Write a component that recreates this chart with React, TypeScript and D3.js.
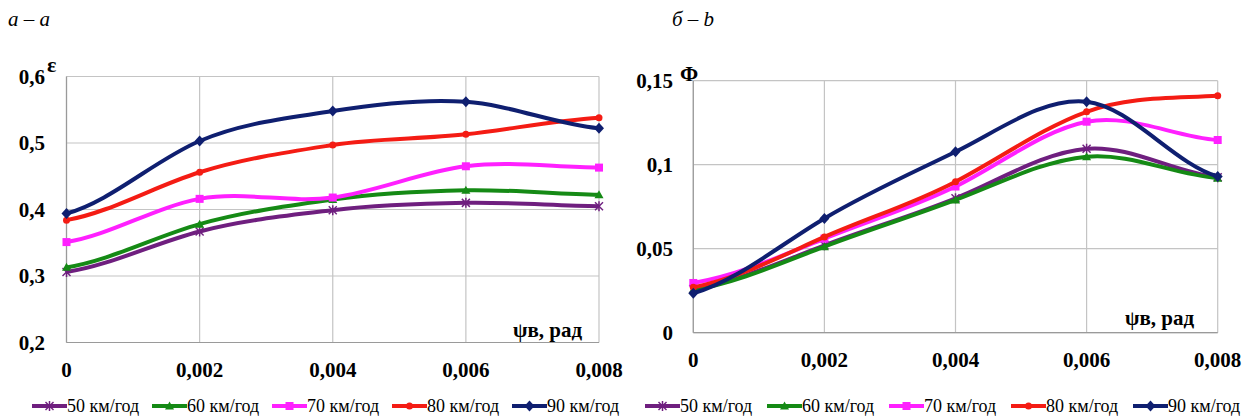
import React from "react";
import * as d3 from "d3";

const xValues = [0, 0.002, 0.004, 0.006, 0.008];
const xTickLabels = ["0", "0,002", "0,004", "0,006", "0,008"];
const seriesNames = ["50 км/год", "60 км/год", "70 км/год", "80 км/год", "90 км/год"];
const seriesColors = ["#6f1f7f", "#158a15", "#ff20ff", "#f41c14", "#0f1f70"];
const seriesMarkers = ["star", "triangle", "square", "circle", "diamond"];

// chart a: ε
const epsTicks = [0.2, 0.3, 0.4, 0.5, 0.6];
const epsTickLabels = ["0,2", "0,3", "0,4", "0,5", "0,6"];
const eps50 = [0.306, 0.367, 0.399, 0.41, 0.405];
const eps60 = [0.313, 0.378, 0.415, 0.429, 0.422];
const eps70 = [0.351, 0.416, 0.418, 0.465, 0.463];
const eps80 = [0.384, 0.456, 0.497, 0.513, 0.538];
const eps90 = [0.394, 0.503, 0.548, 0.562, 0.522];

// chart b: Φ
const phiTicks = [0, 0.05, 0.1, 0.15];
const phiTickLabels = ["0", "0,05", "0,1", "0,15"];
const phi50 = [0.026, 0.052, 0.08, 0.1095, 0.0925];
const phi60 = [0.0255, 0.0512, 0.079, 0.1048, 0.092];
const phi70 = [0.0296, 0.056, 0.087, 0.1256, 0.1147];
const phi80 = [0.027, 0.057, 0.0899, 0.1315, 0.141];
const phi90 = [0.0235, 0.068, 0.1077, 0.1375, 0.093];

const epsSeries = [eps50, eps60, eps70, eps80, eps90];
const phiSeries = [phi50, phi60, phi70, phi80, phi90];

const SERIF = "Liberation Serif";

// Smoothed path (Excel-like): Hermite tangents from neighbours
function smoothPath(px: number[], py: number[], s: number): string {
  const n = px.length;
  const m: number[] = new Array(n).fill(0);
  for (let i = 1; i < n - 1; i++) m[i] = (s * (py[i + 1] - py[i - 1])) / 2;
  m[0] = (py[1] - py[0]) / 2;
  m[n - 1] = (py[n - 1] - py[n - 2]) / 2;
  const p = d3.path();
  p.moveTo(px[0], py[0]);
  for (let i = 0; i < n - 1; i++) {
    const h = px[i + 1] - px[i];
    p.bezierCurveTo(px[i] + h / 3, py[i] + m[i] / 3, px[i + 1] - h / 3, py[i + 1] - m[i + 1] / 3, px[i + 1], py[i + 1]);
  }
  return p.toString();
}

function Marker({ type, x, y, color }: { type: string; x: number; y: number; color: string }) {
  const s = 4;
  if (type === "circle") return <circle cx={x} cy={y} r={3.5} fill={color} />;
  if (type === "square") return <rect x={x - s} y={y - s} width={2 * s} height={2 * s} fill={color} />;
  if (type === "triangle")
    return <path d={`M${x},${y - 4.5}L${x + 4.5},${y + 3.5}L${x - 4.5},${y + 3.5}Z`} fill={color} />;
  if (type === "diamond")
    return <path d={`M${x},${y - 5.5}L${x + 5},${y}L${x},${y + 5.5}L${x - 5},${y}Z`} fill={color} />;
  return (
    <g stroke={color} strokeWidth={1.5}>
      <line x1={x - 4} y1={y - 4} x2={x + 4} y2={y + 4} />
      <line x1={x - 4} y1={y + 4} x2={x + 4} y2={y - 4} />
      <line x1={x} y1={y - 5} x2={x} y2={y + 5} />
    </g>
  );
}

interface PanelProps {
  x0: number;
  x1: number;
  yTop: number;
  yBottom: number;
  yDomain: [number, number];
  yTicks: number[];
  yTickLabels: string[];
  series: number[][];
  yLabelRight: number;
  xLabelBaseline: number;
  yName: string;
  yNameX: number;
  yNameY: number;
  axisNameX: number;
  axisNameY: number;
  legendX: number;
  legendStep: number;
  legendY: number;
  title: string;
  titleX: number;
}

function Panel(p: PanelProps) {
  const xs = d3.scaleLinear().domain([0, 0.008]).range([p.x0, p.x1]);
  const ys = d3.scaleLinear().domain(p.yDomain).range([p.yBottom, p.yTop]);
  return (
    <g>
      <text x={p.titleX} y={26} fontFamily={SERIF} fontStyle="italic" fontSize={21} fill="#000">
        {p.title}
      </text>
      {p.yTicks.map((t) => (
        <line key={"h" + t} x1={p.x0} x2={p.x1} y1={ys(t)} y2={ys(t)} stroke="#c4c4c4" strokeWidth={1.2} />
      ))}
      {xValues.map((t) => (
        <line key={"v" + t} x1={xs(t)} x2={xs(t)} y1={p.yTop} y2={p.yBottom} stroke="#c4c4c4" strokeWidth={1.2} />
      ))}
      <line x1={p.x0} x2={p.x1} y1={p.yBottom} y2={p.yBottom} stroke="#9a9a9a" strokeWidth={1.2} />
      <line x1={p.x0} x2={p.x0} y1={p.yTop} y2={p.yBottom} stroke="#9a9a9a" strokeWidth={1.2} />
      {p.yTicks.map((t, i) => (
        <text key={"yl" + t} x={p.yLabelRight} y={ys(t) + 7} textAnchor="end"
          fontFamily={SERIF} fontWeight="bold" fontSize={21} fill="#000">
          {p.yTickLabels[i]}
        </text>
      ))}
      {xValues.map((t, i) => (
        <text key={"xl" + t} x={xs(t)} y={p.xLabelBaseline} textAnchor="middle"
          fontFamily={SERIF} fontWeight="bold" fontSize={21} fill="#000">
          {xTickLabels[i]}
        </text>
      ))}
      <text x={p.yNameX} y={p.yNameY} fontFamily={SERIF} fontWeight="bold" fontSize={22} fill="#000">
        {p.yName}
      </text>
      <text x={p.axisNameX} y={p.axisNameY} fontFamily={SERIF} fontWeight="bold" fontSize={21} fill="#000">
        ψв, рад
      </text>
      {p.series.map((s, k) => (
        <g key={"s" + k}>
          <path
            d={smoothPath(xValues.map((v) => xs(v)), s.map((v) => ys(v)), 1.1)}
            fill="none"
            stroke={seriesColors[k]}
            strokeWidth={4}
            strokeLinejoin="round"
          />
          {s.map((v, i) => (
            <Marker key={i} type={seriesMarkers[k]} x={xs(xValues[i])} y={ys(v)} color={seriesColors[k]} />
          ))}
        </g>
      ))}
      {seriesNames.map((name, k) => {
        const lx = p.legendX + k * p.legendStep;
        return (
          <g key={"lg" + k}>
            <line x1={lx} x2={lx + 35} y1={p.legendY} y2={p.legendY} stroke={seriesColors[k]} strokeWidth={4} />
            <Marker type={seriesMarkers[k]} x={lx + 17.5} y={p.legendY} color={seriesColors[k]} />
            <text x={lx + 35} y={p.legendY + 6} fontFamily={SERIF} fontSize={18} fill="#000">
              {name}
            </text>
          </g>
        );
      })}
    </g>
  );
}

export default function App() {
  return (
    <svg width={1254} height={418} style={{ position: "absolute", left: 0, top: 0, background: "#fff" }}>
      <rect width={1254} height={418} fill="#fff" />
      <Panel
        x0={66.5}
        x1={599}
        yTop={76.5}
        yBottom={342.5}
        yDomain={[0.2, 0.6]}
        yTicks={epsTicks}
        yTickLabels={epsTickLabels}
        series={epsSeries}
        yLabelRight={45}
        xLabelBaseline={377}
        yName="ε"
        yNameX={47}
        yNameY={72}
        axisNameX={513}
        axisNameY={337}
        legendX={32}
        legendStep={120}
        legendY={406}
        title="a – a"
        titleX={8}
      />
      <Panel
        x0={693.3}
        x1={1217.7}
        yTop={80.7}
        yBottom={332.7}
        yDomain={[0, 0.15]}
        yTicks={phiTicks}
        yTickLabels={phiTickLabels}
        series={phiSeries}
        yLabelRight={673}
        xLabelBaseline={367}
        yName="Φ"
        yNameX={680}
        yNameY={81}
        axisNameX={1125}
        axisNameY={325}
        legendX={645}
        legendStep={122}
        legendY={406}
        title="б – b"
        titleX={672}
      />
    </svg>
  );
}
